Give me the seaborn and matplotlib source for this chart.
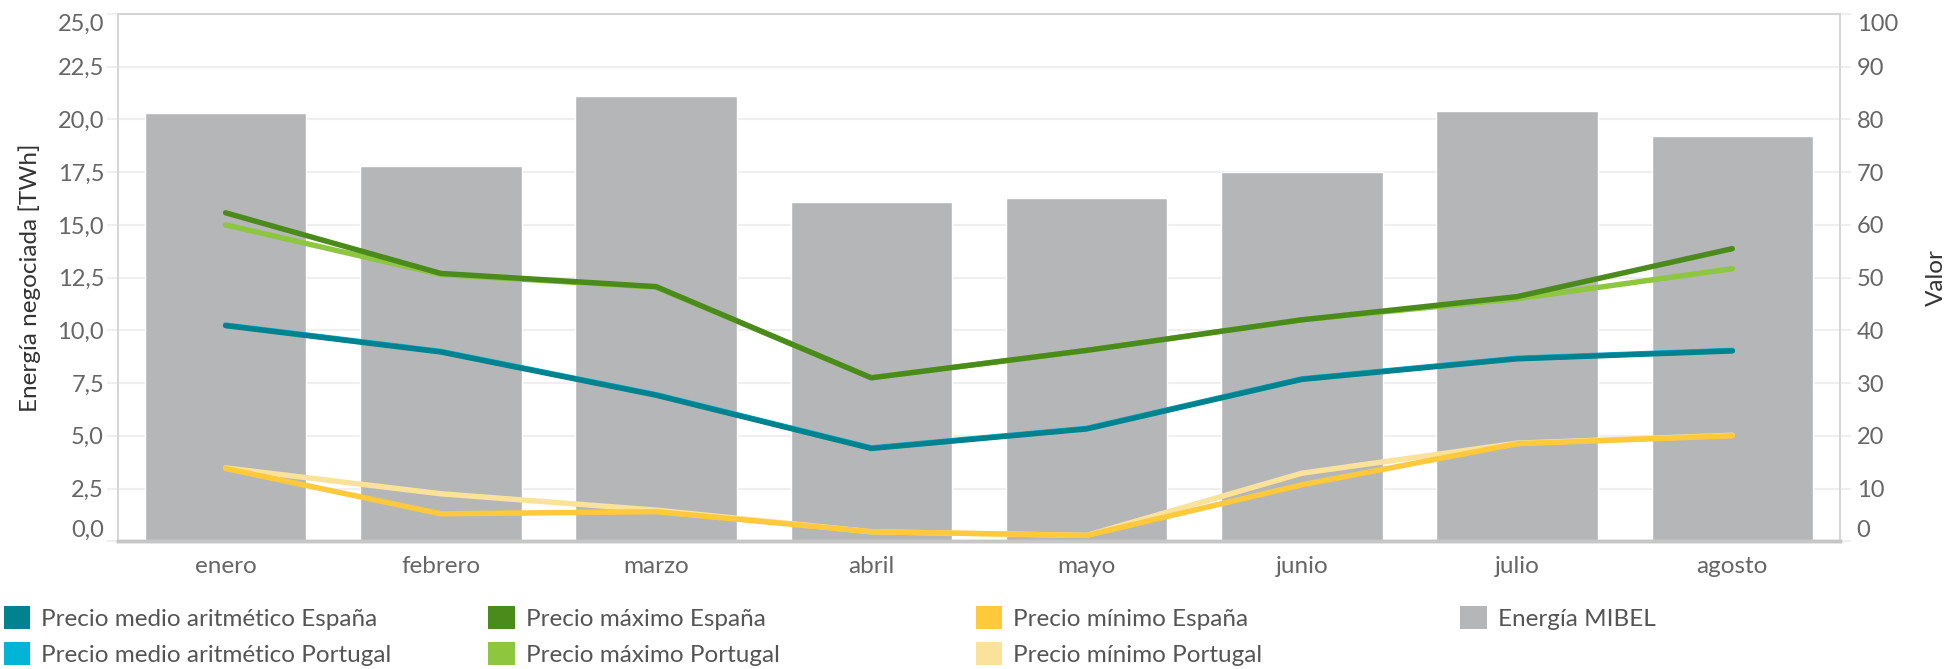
import matplotlib
matplotlib.use('Agg')
import matplotlib.pyplot as plt
import seaborn as sns
import pandas as pd
import numpy as np
from matplotlib.patches import Patch

# Datos
meses = ['enero', 'febrero', 'marzo', 'abril', 'mayo', 'junio', 'julio', 'agosto']
energia_mibel = [20.3, 17.8, 21.1, 16.1, 16.3, 17.5, 20.4, 19.2]  # TWh

medio_es = [40.9, 35.9, 27.7, 17.6, 21.3, 30.7, 34.6, 36.1]
medio_pt = [41.0, 36.0, 27.8, 17.7, 21.4, 30.8, 34.7, 36.2]
max_es = [62.3, 50.8, 48.3, 31.0, 36.2, 42.0, 46.4, 55.5]
max_pt = [60.0, 50.6, 48.2, 31.0, 36.2, 42.0, 46.0, 51.7]
min_es = [13.8, 5.2, 5.6, 1.8, 1.1, 10.7, 18.5, 20.0]
min_pt = [13.9, 9.0, 5.9, 1.8, 1.1, 12.9, 18.6, 20.1]

series = {
    'Precio medio aritmético Portugal': medio_pt,
    'Precio máximo Portugal': max_pt,
    'Precio mínimo Portugal': min_pt,
    'Precio medio aritmético España': medio_es,
    'Precio máximo España': max_es,
    'Precio mínimo España': min_es,
}

colores = {
    'Precio medio aritmético España': '#00838F',
    'Precio medio aritmético Portugal': '#00B4D5',
    'Precio máximo España': '#4A8B1C',
    'Precio máximo Portugal': '#8DC63F',
    'Precio mínimo España': '#FFC93C',
    'Precio mínimo Portugal': '#FBE29B',
    'Energía MIBEL': '#B5B6B8',
}

legend_cols = [
    ['Precio medio aritmético España', 'Precio medio aritmético Portugal'],
    ['Precio máximo España', 'Precio máximo Portugal'],
    ['Precio mínimo España', 'Precio mínimo Portugal'],
    ['Energía MIBEL'],
]

df_bar = pd.DataFrame({'Mes': meses, 'Energía': energia_mibel})
df_lines = pd.concat(
    [pd.DataFrame({'Mes': meses, 'Valor': v, 'Serie': k}) for k, v in series.items()],
    ignore_index=True)

sns.set_style('white')
plt.rcParams['font.family'] = ['Lato', 'DejaVu Sans']

TICK_C = '#666666'
GRID_C = '#efefef'
BORDER_C = '#d4d4d4'
FS = 17.5

fig = plt.figure(figsize=(19.46, 6.69), dpi=100)
ax = fig.add_axes([0.0606, 0.191, 0.8849, 0.788])

sns.barplot(data=df_bar, x='Mes', y='Energía', color=colores['Energía MIBEL'],
            width=0.75, saturation=1, ax=ax, zorder=2)

ax2 = ax.twinx()
sns.lineplot(data=df_lines, x='Mes', y='Valor', hue='Serie',
             hue_order=list(series.keys()), palette=colores, ax=ax2,
             linewidth=3.9, legend=False, sort=False,
             solid_capstyle='round', solid_joinstyle='round')

ax.set_xlim(-0.5, len(meses) - 0.5)
ax.set_ylim(0, 25)
ax2.set_ylim(0, 100)

# eje izquierdo
yt = np.arange(0, 25.01, 2.5)
ax.set_yticks(yt)
ax.set_yticklabels([f'{v:.1f}'.replace('.', ',') for v in yt])
ax.yaxis.grid(True, color=GRID_C, linewidth=1.5, zorder=0)
ax.set_axisbelow(True)
ax.tick_params(axis='y', length=8, color=GRID_C, width=1.5,
               labelsize=17, labelcolor=TICK_C, pad=2)
ax.set_ylabel('Energía negociada [TWh]', fontsize=FS, color='#333333', labelpad=12)

# eje derecho
yt2 = np.arange(0, 101, 10)
ax2.set_yticks(yt2)
ax2.set_yticklabels([str(v) for v in yt2])
ax2.tick_params(axis='y', length=8, color=GRID_C, width=1.5,
                labelsize=17, labelcolor=TICK_C, pad=4)
ax2.set_ylabel('Valor', fontsize=FS, color='#333333', labelpad=20)
ax2.grid(False)

for a in (ax, ax2):
    labs = a.get_yticklabels()
    labs[0].set_va('bottom')
    labs[-1].set_va('top')

# eje x
ax.set_xlabel('')
ax2.set_xlabel('')
ax.set_xticks(range(len(meses)))
ax.set_xticklabels(meses)
ax.set_xticks(np.arange(-0.5, len(meses)), minor=True)
ax.tick_params(axis='x', which='major', length=0, labelsize=FS,
               labelcolor=TICK_C, pad=11)
ax.tick_params(axis='x', which='minor', length=12, color='#e6e6e6', width=1.2)

for a in (ax, ax2):
    for s in a.spines.values():
        s.set_color(BORDER_C)
        s.set_linewidth(1.2)
    a.spines['bottom'].set_color('#c6c6c6')
    a.spines['bottom'].set_linewidth(2.5)

# leyenda en columnas
col_x = [0.0, 0.249, 0.4995, 0.7485]
for x0, cols in zip(col_x, legend_cols):
    handles = [Patch(facecolor=colores[c], edgecolor='none') for c in cols]
    leg = fig.legend(handles, cols, loc='upper left', bbox_to_anchor=(x0, 0.1),
                     frameon=False, fontsize=FS, handlelength=1.1, handleheight=1.1,
                     handletextpad=0.45, labelspacing=0.5, borderaxespad=0,
                     borderpad=0.15)
    for t in leg.get_texts():
        t.set_color('#555555')

fig.savefig('out.png', dpi=100, facecolor='white')
